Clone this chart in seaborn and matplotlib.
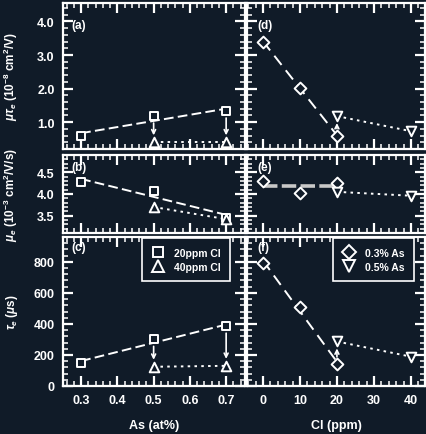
import numpy as np
import pandas as pd
import matplotlib
matplotlib.use("Agg")
import matplotlib.pyplot as plt
from matplotlib.lines import Line2D
from matplotlib.ticker import MultipleLocator
import seaborn as sns

# ---------------- data ----------------
as_x = [0.3, 0.5, 0.7]          # As (at%) for 20 ppm Cl
as_x40 = [0.5, 0.7]             # As (at%) for 40 ppm Cl
cl_x03 = [0, 10, 20]            # Cl (ppm) for 0.3% As
cl_x05 = [20, 40]               # Cl (ppm) for 0.5% As

mutau_20 = [0.60, 1.18, 1.33]
mutau_40 = [0.40, 0.40]
mu_20 = [4.28, 4.07, 3.45]
mu_40 = [3.70, 3.42]
tau_20 = [150, 300, 385]
tau_40 = [124, 130]

mutau_03 = [3.40, 2.03, 0.60]
mutau_05 = [1.18, 0.73]
mu_03 = [4.30, 4.02, 4.26]
mu_05 = [4.05, 3.96]
tau_03 = [795, 508, 143]
tau_05 = [287, 189]

left_xticks = [0.3, 0.4, 0.5, 0.6, 0.7]
right_xticks = [0, 10, 20, 30, 40]

BG = "#101b28"
FG = "white"

sns.set_style("dark")
plt.rcParams["font.family"] = ["Liberation Sans", "DejaVu Sans"]
plt.rcParams["font.weight"] = "bold"
plt.rcParams["mathtext.fontset"] = "custom"
plt.rcParams["mathtext.rm"] = "Liberation Sans:bold"
plt.rcParams["mathtext.it"] = "Liberation Sans:italic:bold"
plt.rcParams["mathtext.bf"] = "Liberation Sans:bold"

fig = plt.figure(figsize=(4.27, 4.35), dpi=100, facecolor=BG)
W, H = 427.0, 435.0

def add_ax(x0, x1, y0, y1):
    return fig.add_axes([x0 / W, 1 - y1 / H, (x1 - x0) / W, (y1 - y0) / H])

LX0, LX1 = 63, 245
RX0, RX1 = 247, 425
rows = [(4, 150), (156, 234), (238, 387)]

axes = []
for (y0, y1) in rows:
    axes.append((add_ax(LX0, LX1, y0, y1), add_ax(RX0, RX1, y0, y1)))

dash_sq = (0, (5, 2.2))
dot = (0, (1.3, 2.2))
dash_dm = (0, (6, 3.5))

def style(ax, left, bottom):
    ax.set_facecolor("none")
    for s in ax.spines.values():
        s.set_color(FG)
        s.set_linewidth(1.6)
    ax.tick_params(which="both", direction="in", colors=FG, top=True, right=True,
                   bottom=True, left=True, labelsize=9)
    ax.tick_params(which="major", length=7.5, width=1.6)
    ax.tick_params(which="minor", length=3.5, width=1.1)
    ax.tick_params(axis="both", pad=6)
    if not left:
        ax.tick_params(labelleft=False)
    if not bottom:
        ax.tick_params(labelbottom=False)
    ax.grid(False)

def markers(ax, x, y, marker, size):
    df = pd.DataFrame({"x": x, "y": y})
    sns.scatterplot(data=df, x="x", y="y", ax=ax, marker=marker, s=size,
                    facecolor=BG, edgecolor=FG, linewidth=1.4, zorder=4)

def fitline(ax, x, y, ls, lw=1.4):
    df = pd.DataFrame({"x": x, "y": y})
    sns.regplot(data=df, x="x", y="y", ax=ax, ci=None, scatter=False,
                line_kws=dict(color=FG, linestyle=ls, lw=lw, zorder=2))

def joinline(ax, x, y, ls, lw=1.4):
    df = pd.DataFrame({"x": x, "y": y})
    sns.lineplot(data=df, x="x", y="y", ax=ax, color=FG, linestyle=ls, lw=lw, zorder=2)

def arrow(ax, x, y_from, y_to):
    ax.annotate("", xy=(x, y_to), xytext=(x, y_from),
                arrowprops=dict(arrowstyle="->", color=FG, lw=1.2,
                                mutation_scale=7, shrinkA=5, shrinkB=5), zorder=3)

left_data = [(mutau_20, mutau_40), (mu_20, mu_40), (tau_20, tau_40)]
right_data = [(mutau_03, mutau_05), (mu_03, mu_05), (tau_03, tau_05)]
ylims = [(0.2, 4.55), (3.1, 4.9), (0, 960)]
ymaj = [1.0, 0.5, 200]
ymin = [0.2, 0.1, 40]
yfmt = ["{:.1f}", "{:.1f}", "{:.0f}"]
ylabels = [r"$\mu\tau_e$ (10$^{-8}$ cm$^2$/V)",
           r"$\mu_e$ (10$^{-3}$ cm$^2$/V/s)",
           r"$\tau_e$ ($\mu$s)"]
panel_l = ["(a)", "(b)", "(c)"]
panel_r = ["(d)", "(e)", "(f)"]
panel_y = [0.89, 0.92, 0.975]

for i, (axl, axr) in enumerate(axes):
    y20, y40 = left_data[i]
    fitline(axl, as_x, y20, dash_sq)
    joinline(axl, as_x40, y40, dot)
    markers(axl, as_x, y20, "s", 40)
    markers(axl, as_x40, y40, "^", 48)
    if i != 1:
        for xx, ya, yb in zip(as_x40, [y20[as_x.index(v)] for v in as_x40], y40):
            arrow(axl, xx, ya, yb)

    y03, y05 = right_data[i]
    if i == 1:
        m = float(np.mean(y03))
        dfm = pd.DataFrame({"x": [cl_x03[0], cl_x03[-1]], "y": [m, m]})
        sns.lineplot(data=dfm, x="x", y="y", ax=axr, color="#c8c8c8",
                     linestyle=(0, (4, 1.2)), lw=2.6, zorder=2)
    else:
        fitline(axr, cl_x03, y03, dash_dm)
    joinline(axr, cl_x05, y05, dot)
    markers(axr, cl_x03, y03, "D", 36)
    markers(axr, cl_x05, y05, "v", 48)
    if i != 1:
        arrow(axr, cl_x05[0], y03[cl_x03.index(cl_x05[0])], y05[0])

    for ax, left in ((axl, True), (axr, False)):
        style(ax, left, i == 2)
        ax.set_ylim(*ylims[i])
        ax.yaxis.set_major_locator(MultipleLocator(ymaj[i]))
        ax.yaxis.set_minor_locator(MultipleLocator(ymin[i]))
        ax.set_xlabel("")
        ax.set_ylabel("")
    axl.set_xlim(0.25, 0.752)
    axl.set_xticks(left_xticks)
    axl.xaxis.set_minor_locator(MultipleLocator(0.02))
    axr.set_xlim(-4.3, 43.8)
    axr.set_xticks(right_xticks)
    axr.xaxis.set_minor_locator(MultipleLocator(2))
    axl.set_yticks([t for t in axl.get_yticks() if ylims[i][0] <= t <= ylims[i][1]])
    axl.set_yticklabels([yfmt[i].format(t) for t in axl.get_yticks()])
    axl.set_ylabel(ylabels[i], color=FG, fontsize=8.5, fontweight="bold")
    axl.yaxis.set_label_coords(-0.235, 0.5)
    axl.text(0.045, panel_y[i], panel_l[i], transform=axl.transAxes, color=FG,
             fontsize=8.5, fontweight="bold", va="top", ha="left")
    axr.text(0.06, panel_y[i], panel_r[i], transform=axr.transAxes, color=FG,
             fontsize=8.5, fontweight="bold", va="top", ha="left")

axes[2][0].set_xticklabels([f"{t:.1f}" for t in left_xticks])
axes[2][1].set_xticklabels([f"{t:d}" for t in right_xticks])
axes[2][0].set_xlabel("As (at%)", color=FG, fontsize=9, fontweight="bold", labelpad=9)
axes[2][1].set_xlabel("Cl (ppm)", color=FG, fontsize=9, fontweight="bold", labelpad=9)

def legend(ax, handles, labels, x0):
    lg = ax.legend(handles, labels, loc="upper left", bbox_to_anchor=(x0, 0.99),
                   frameon=True, fancybox=False, fontsize=7.5, handletextpad=1.0,
                   borderpad=0.9, labelspacing=0.35, handlelength=1.2,
                   borderaxespad=0.0)
    fr = lg.get_frame()
    fr.set_facecolor(BG)
    fr.set_edgecolor(FG)
    fr.set_linewidth(1.2)
    fr.set_alpha(1)
    for t in lg.get_texts():
        t.set_color(FG)
    return lg

def h(marker, ms):
    return Line2D([], [], linestyle="none", marker=marker, markersize=ms,
                  markerfacecolor="none", markeredgecolor=FG, markeredgewidth=1.4)

legend(axes[2][0], [h("s", 7.5), h("^", 8.5)], ["20ppm Cl", "40ppm Cl"], 0.434)
legend(axes[2][1], [h("D", 7), h("v", 8.5)], ["0.3% As", "0.5% As"], 0.483)

fig.savefig("out.png", dpi=100, facecolor=BG)
